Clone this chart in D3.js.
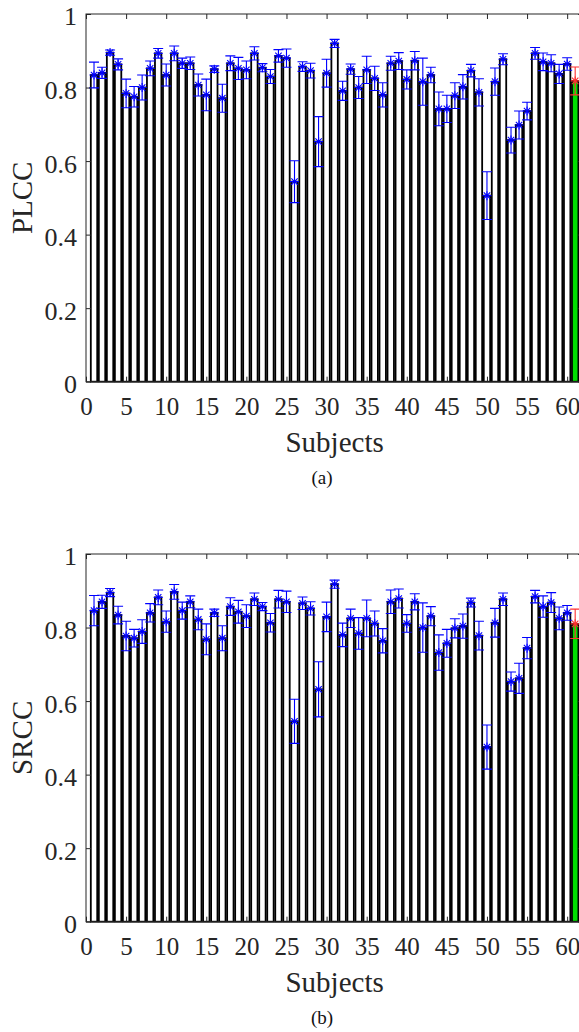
<!DOCTYPE html>
<html>
<head>
<meta charset="utf-8">
<script src="https://cdnjs.cloudflare.com/ajax/libs/d3/7.8.5/d3.min.js"></script>
<style>
    body { margin: 0; background: #fff; }
    svg { display: block; }
</style>
</head>
<body>
<svg id="graph"></svg>
<script>
    'use strict';

    // subjects 1..60 plus the overall average (61)
    var subjects = [1, 2, 3, 4, 5, 6, 7, 8, 9, 10, 11, 12, 13, 14, 15, 16, 17, 18, 19, 20,
        21, 22, 23, 24, 25, 26, 27, 28, 29, 30, 31, 32, 33, 34, 35, 36, 37, 38, 39, 40,
        41, 42, 43, 44, 45, 46, 47, 48, 49, 50, 51, 52, 53, 54, 55, 56, 57, 58, 59, 60, 61];

    var plccMean = [0.834, 0.840, 0.895, 0.863, 0.784, 0.775, 0.800, 0.852, 0.893, 0.834,
        0.893, 0.866, 0.866, 0.807, 0.780, 0.850, 0.771, 0.866, 0.852, 0.848,
        0.893, 0.854, 0.830, 0.886, 0.880, 0.544, 0.857, 0.846, 0.653, 0.839,
        0.920, 0.791, 0.850, 0.800, 0.848, 0.825, 0.780, 0.866, 0.872, 0.822,
        0.873, 0.816, 0.834, 0.742, 0.742, 0.778, 0.802, 0.846, 0.787, 0.506,
        0.816, 0.877, 0.657, 0.698, 0.736, 0.893, 0.870, 0.866, 0.837, 0.864, 0.818];
    var plccStd = [0.035, 0.015, 0.007, 0.015, 0.039, 0.028, 0.034, 0.020, 0.013, 0.030,
        0.020, 0.014, 0.017, 0.030, 0.043, 0.009, 0.038, 0.020, 0.030, 0.024,
        0.018, 0.011, 0.019, 0.017, 0.025, 0.057, 0.013, 0.020, 0.068, 0.038,
        0.011, 0.026, 0.014, 0.030, 0.037, 0.033, 0.033, 0.019, 0.023, 0.026,
        0.025, 0.064, 0.021, 0.046, 0.037, 0.035, 0.033, 0.017, 0.037, 0.065,
        0.037, 0.015, 0.035, 0.038, 0.024, 0.016, 0.024, 0.023, 0.026, 0.017, 0.038];

    var srccMean = [0.846, 0.870, 0.895, 0.834, 0.777, 0.771, 0.789, 0.840, 0.882, 0.816,
        0.897, 0.846, 0.870, 0.822, 0.768, 0.840, 0.771, 0.857, 0.843, 0.831,
        0.877, 0.857, 0.813, 0.877, 0.870, 0.545, 0.866, 0.852, 0.632, 0.829,
        0.918, 0.780, 0.825, 0.784, 0.825, 0.811, 0.764, 0.870, 0.879, 0.811,
        0.870, 0.800, 0.831, 0.732, 0.757, 0.798, 0.804, 0.868, 0.778, 0.475,
        0.813, 0.877, 0.653, 0.662, 0.744, 0.884, 0.857, 0.868, 0.825, 0.840, 0.810];
    var srccStd = [0.041, 0.018, 0.011, 0.024, 0.040, 0.024, 0.032, 0.025, 0.020, 0.029,
        0.020, 0.023, 0.016, 0.028, 0.042, 0.010, 0.034, 0.024, 0.031, 0.031,
        0.017, 0.011, 0.025, 0.024, 0.029, 0.060, 0.017, 0.018, 0.075, 0.040,
        0.011, 0.032, 0.025, 0.043, 0.050, 0.034, 0.033, 0.032, 0.026, 0.024,
        0.022, 0.067, 0.026, 0.048, 0.038, 0.026, 0.033, 0.012, 0.039, 0.060,
        0.039, 0.017, 0.026, 0.041, 0.029, 0.017, 0.029, 0.027, 0.031, 0.020, 0.040];

    var xTicks = [0, 5, 10, 15, 20, 25, 30, 35, 40, 45, 50, 55, 60];
    var yTicks = [0, 0.2, 0.4, 0.6, 0.8, 1];

    var W = 579, H = 1032;
    var margin = { top: 14, left: 86 },
        width = 497.2,
        height = 367.7,
        panelGap = 540;
    var serif = "'Liberation Serif', 'Times New Roman', serif";

    var svg = d3.select("#graph")
        .attr("width", W)
        .attr("height", H);

    svg.append("rect")
        .attr("width", W)
        .attr("height", H)
        .attr("fill", "#fff");

    // set the ranges
    var x = d3.scaleLinear().domain([0, 62]).range([0, width]),
        y = d3.scaleLinear().domain([0, 1]).range([height, 0]);

    var star = "M-4.5,0H4.5M0,-4.5V4.5M-3.2,-3.2L3.2,3.2M-3.2,3.2L3.2,-3.2";

    drawPanel(0, plccMean, plccStd, "PLCC", "(a)");
    drawPanel(1, srccMean, srccStd, "SRCC", "(b)");

    function drawPanel(index, means, stds, yLabel, caption) {
        var data = subjects.map(function (s, i) {
            return { subject: s, mean: means[i], std: stds[i], last: i === subjects.length - 1 };
        });

        var graph = svg.append("g")
            .attr("transform", "translate(" + margin.left + "," + (margin.top + index * panelGap) + ")");

        // bars
        graph.selectAll(".bar")
            .data(data)
            .enter().append("rect")
            .attr("class", "bar")
            .attr("x", function (d) { return x(d.subject - 0.4); })
            .attr("width", x(0.8) - x(0))
            .attr("y", function (d) { return y(d.mean); })
            .attr("height", function (d) { return y(0) - y(d.mean); })
            .attr("fill", function (d) { return d.last ? "#00e000" : "#fff"; })
            .attr("stroke", "#000")
            .attr("stroke-width", 1.8);

        // error bars
        var err = graph.selectAll(".err")
            .data(data)
            .enter().append("g")
            .attr("class", "err")
            .attr("stroke", function (d) { return d.last ? "#ff3030" : "#0000ff"; })
            .attr("stroke-width", 1.1)
            .attr("fill", "none");

        err.append("path")
            .attr("d", function (d) {
                var cx = x(d.subject), hi = y(d.mean + d.std), lo = y(d.mean - d.std);
                return "M" + cx + "," + hi + "V" + lo +
                    "M" + (cx - 5) + "," + hi + "H" + (cx + 5) +
                    "M" + (cx - 5) + "," + lo + "H" + (cx + 5);
            });

        err.append("path")
            .attr("d", star)
            .attr("transform", function (d) { return "translate(" + x(d.subject) + "," + y(d.mean) + ")"; });

        // box
        graph.append("rect")
            .attr("width", width)
            .attr("height", height)
            .attr("fill", "none")
            .attr("stroke", "#262626")
            .attr("stroke-width", 1);

        // Add the X Axis
        var xAxis = graph.append("g")
            .attr("transform", "translate(0," + height + ")")
            .call(d3.axisBottom(x).tickValues(xTicks).tickSize(-5).tickPadding(16).tickFormat(d3.format("d")));
        xAxis.select(".domain").remove();
        xAxis.selectAll("text").style("font-family", serif).style("font-size", "25px").attr("fill", "#262626");
        xAxis.selectAll("line").attr("stroke", "#262626");

        var xTop = graph.append("g")
            .call(d3.axisTop(x).tickValues(xTicks).tickSize(-5).tickFormat(""));
        xTop.select(".domain").remove();
        xTop.selectAll("line").attr("stroke", "#262626");

        // Add the Y Axis
        var yAxis = graph.append("g")
            .call(d3.axisLeft(y).tickValues(yTicks).tickSize(-5).tickPadding(9).tickFormat(function (d) { return d3.format("")(+d.toFixed(1)); }));
        yAxis.select(".domain").remove();
        yAxis.selectAll("text").style("font-family", serif).style("font-size", "26px").attr("fill", "#262626").attr("dy", "0.42em");
        yAxis.selectAll("line").attr("stroke", "#262626");

        var yRight = graph.append("g")
            .attr("transform", "translate(" + width + ",0)")
            .call(d3.axisRight(y).tickValues(yTicks).tickSize(-5).tickFormat(""));
        yRight.select(".domain").remove();
        yRight.selectAll("line").attr("stroke", "#262626");

        // Label X Axis
        graph.append("text")
            .attr("text-anchor", "middle")
            .attr("x", width / 2)
            .attr("y", height + 70.5)
            .style("font-family", serif)
            .style("font-size", "29px")
            .attr("fill", "#262626")
            .text("Subjects");

        // text label for the y axis
        graph.append("text")
            .attr("transform", "rotate(-90)")
            .attr("x", 0 - height / 2)
            .attr("y", 22 - margin.left)
            .attr("dy", "0.35em")
            .style("text-anchor", "middle")
            .style("font-family", serif)
            .style("font-size", "29px")
            .attr("fill", "#262626")
            .text(yLabel);

        // panel caption
        svg.append("text")
            .attr("text-anchor", "middle")
            .attr("x", 322)
            .attr("y", 484 + index * panelGap)
            .style("font-family", serif)
            .style("font-size", "19px")
            .attr("fill", "#111")
            .text(caption);
    }
</script>
</body>
</html>
